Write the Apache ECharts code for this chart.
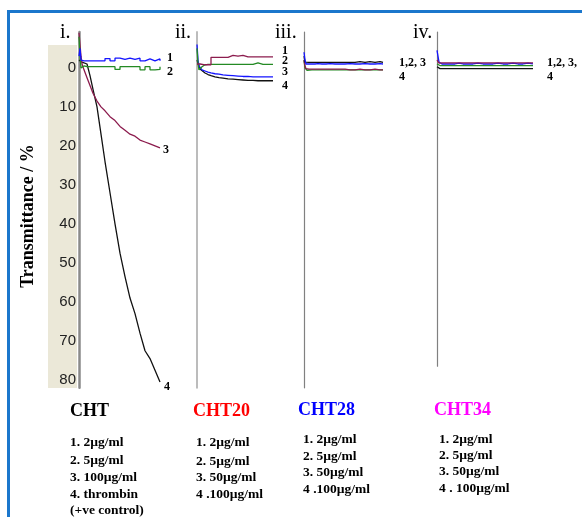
<!DOCTYPE html>
<html>
<head>
<meta charset="utf-8">
<script src="https://cdn.jsdelivr.net/npm/echarts@6/dist/echarts.min.js"></script>
<style>
  html, body { margin: 0; padding: 0; background: #fff; }
  #chart { width: 582px; height: 517px; }
</style>
</head>
<body>
<div id="chart"></div>
<script>
  // transmittance axis (runs downwards), labels only on panel i
  const yTicks = [0, 10, 20, 30, 40, 50, 60, 70, 80];
  const panelNames = ['i.', 'ii.', 'iii.', 'iv.'];

  // panel i : CHT
  const timeI = [0, 1, 2, 3, 5, 8, 11, 14, 18, 22, 26, 31, 36, 41, 46, 51, 56, 61, 66, 71, 76, 81];
  const chtBlue = [-3, -5, -2, -1.8, -1.8, -1.8, -1.8, -1.8, -1.8, -1.8, -2.4, -1.8, -2.5, -2.2, -2.5, -2.2, -2.5, -1.8, -2.3, -1.8, -2.3, -1.8];
  const chtGreen = [-8, -3, 0, -0.5, -0.3, -0.3, -0.3, -0.3, -0.3, -0.3, -0.3, -0.3, 0.4, -0.3, -0.3, -0.3, -0.3, 0.5, -0.3, 0.5, 0.4, -0.3];
  const chtMaroon = [-9, -6, -3, -1, 0.5, 2.5, 4.5, 6.5, 8.5, 10, 11, 12.5, 13.5, 15, 16, 17, 17.5, 18.5, 19, 19.5, 20, 20.5];
  const chtBlack = [-2, -2, -1.5, -1.5, -1.5, -1, 2, 5.5, 10, 17, 24, 32, 40, 47.5, 53.5, 59, 63, 68, 72.5, 74.5, 77.5, 80.5];

  // panel ii : CHT20
  const timeII = [0, 1, 2, 3, 5, 8, 11, 14, 18, 22, 26, 31, 36, 41, 46, 51, 56, 61, 66, 71, 76];
  const cht20Maroon = [-1, -0.5, -1, -1.2, -0.8, -0.8, -0.8, -2.7, -2.7, -2.7, -2.7, -3.2, -3.0, -3.2, -2.8, -2.8, -2.8, -2.8, -2.8, -2.8, -2.8];
  const cht20Green = [-5, -1, 0.5, 0, -0.3, -0.8, -0.9, -0.9, -0.9, -0.9, -0.9, -0.9, -0.9, -0.9, -0.9, -0.9, -0.9, -1.3, -0.9, -0.9, -0.9];
  const cht20Blue = [-6, -2, -0.5, 0, 0.5, 0.8, 1.1, 1.3, 1.5, 1.6, 1.8, 1.9, 2.0, 2.1, 2.2, 2.2, 2.3, 2.3, 2.3, 2.3, 2.3];
  const cht20Black = [-2, -1.5, -0.5, 0.3, 0.8, 1.3, 1.7, 2.0, 2.3, 2.5, 2.6, 2.8, 2.9, 3.0, 3.1, 3.2, 3.2, 3.3, 3.3, 3.3, 3.3];

  // panel iii : CHT28
  const timeIII = [0, 1, 2, 3, 5, 8, 11, 14, 18, 22, 26, 31, 36, 41, 46, 51, 56, 61, 66, 71, 76, 79];
  const cht28Green = [-2, 0, 0.5, 0.6, 0.5, 0.5, 0.5, 0.5, 0.5, 0.5, 0.5, 0.5, 0.5, 0.5, 0.5, 0.5, 0.5, 0.5, 0.5, 0.5, 0.5, 0.5];
  const cht28Maroon = [-2, -0.5, 0.2, 0.4, 0.3, 0.3, 0.3, 0.3, 0.3, 0.3, 0.3, 0.3, 0.3, 0.3, 0.5, 0.5, 0.3, 0.5, 0.5, 0.3, 0.5, 0.5];
  const cht28Blue = [-4, -2, -1, -0.8, -1, -1, -1, -1.1, -1, -1, -1.1, -1, -1, -1, -1.1, -1, -1, -1.1, -1, -1, -1.1, -1];
  const cht28Black = [-3, -1.5, -1.2, -1.3, -1.4, -1.4, -1.4, -1.4, -1.4, -1.4, -1.4, -1.4, -1.4, -1.4, -1.4, -1.4, -1.6, -1.4, -1.6, -1.4, -1.6, -1.4];

  // panel iv : CHT34
  const timeIV = [0, 1, 2, 3, 5, 8, 11, 14, 18, 22, 26, 31, 36, 41, 46, 51, 56, 61, 66, 71, 76, 81, 86, 91, 96];
  const cht34Black = [-0.3, -0.3, -0.3, 0.2, 0.2, 0.2, 0.2, 0.2, 0.2, 0.2, 0.2, 0.2, 0.2, 0.2, 0.2, 0.2, 0.2, 0.2, 0.2, 0.2, 0.2, 0.2, 0.2, 0.2, 0.2];
  const cht34Green = [-1, -0.7, -0.6, -0.6, -0.6, -0.6, -0.6, -0.6, -0.6, -0.6, -0.6, -0.6, -0.6, -0.6, -0.6, -0.6, -0.6, -0.6, -0.6, -0.6, -0.6, -0.6, -0.6, -0.6, -0.6];
  const cht34Maroon = [-2, -1.5, -1.2, -1.3, -1.3, -1.3, -1.3, -1.3, -1.3, -1.3, -1.3, -1.3, -1.3, -1.3, -1.3, -1.3, -1.3, -1.3, -1.3, -1.3, -1.3, -1.3, -1.3, -1.3, -1.3];
  const cht34Blue = [-4.5, -3, -1.5, -1.2, -1, -1, -1, -1, -1, -1.2, -1, -1, -1, -1.2, -1, -1, -1, -1.2, -1, -1, -1.2, -1, -1, -1.2, -1];

  // legend block under the panels
  const legendTitles = ['CHT', 'CHT20', 'CHT28', 'CHT34'];
  const legendColors = ['#000000', '#ff0000', '#0000ff', '#ff00ff'];
  const legendItems = [
    ['1. 2µg/ml', '2. 5µg/ml', '3. 100µg/ml', '4. thrombin', '(+ve control)'],
    ['1. 2µg/ml', '2. 5µg/ml', '3. 50µg/ml', '4 .100µg/ml'],
    ['1. 2µg/ml', '2. 5µg/ml', '3. 50µg/ml', '4 .100µg/ml'],
    ['1. 2µg/ml', '2. 5µg/ml', '3. 50µg/ml', '4 . 100µg/ml']
  ];

  const BLUE = '#1414ff', GREEN = '#248a24', MAROON = '#8c1c4e', BLACK = '#111111';
  const serif = '"Liberation Serif", "Times New Roman", serif';

  const chart = echarts.init(document.getElementById('chart'), null, { renderer: 'canvas' });

  function line(grid, times, values, color, step) {
    return {
      type: 'line',
      xAxisIndex: grid,
      yAxisIndex: grid,
      data: times.map((t, i) => [t, values[i]]),
      showSymbol: false,
      step: step || false,
      silent: true,
      lineStyle: { color: color, width: 1.3 },
      itemStyle: { color: color }
    };
  }

  function xAx(grid, max) {
    return { type: 'value', gridIndex: grid, min: 0, max: max, show: false };
  }

  function yAx(grid, max, color, width, withLabels) {
    return {
      type: 'value',
      gridIndex: grid,
      inverse: true,
      min: -9.2,
      max: max,
      axisLine: { show: true, onZero: false, lineStyle: { color: color, width: width } },
      axisTick: { show: false },
      splitLine: { show: false },
      axisLabel: withLabels ? {
        show: true,
        customValues: yTicks,
        margin: 3,
        color: '#222',
        fontSize: 15,
        fontFamily: '"Liberation Sans", Arial, sans-serif'
      } : { show: false }
    };
  }

  function txt(x, y, text, font, color, align) {
    return {
      type: 'text', x: x, y: y, z: 10,
      style: { text: text, font: font, fill: color || '#000', align: align || 'left', verticalAlign: 'middle' }
    };
  }

  // scale: 3.9 px per % with 0 at y=68
  const grids = [
    { left: 79, top: 32, width: 81, height: 355.8 },
    { left: 197, top: 32, width: 76, height: 355.8 },
    { left: 304, top: 32, width: 79, height: 355.8 },
    { left: 437, top: 32, width: 96, height: 334.2 }
  ].map(g => Object.assign({ outerBoundsMode: 'none', containLabel: false }, g));

  const graphics = [
    // frame
    { type: 'polyline', z: 5, shape: { points: [[8.5, 517], [8.5, 11.5], [582, 11.5]] }, style: { stroke: '#1b77cc', lineWidth: 3, fill: null } },
    // beige label band
    { type: 'rect', z: -10, shape: { x: 48, y: 45, width: 29, height: 343 }, style: { fill: '#ebe8d8' } },
    // axis title
    { type: 'text', x: 28, y: 216, rotation: Math.PI / 2, style: { text: 'Transmittance / %', font: 'bold 18px ' + serif, fill: '#000', align: 'center', verticalAlign: 'middle' } }
  ];

  const numX = [60, 175, 275, 413];
  panelNames.forEach((n, i) => graphics.push(txt(numX[i], 33, n, '20px ' + serif)));

  // curve numbers at the line ends
  const endFont = 'bold 12px ' + serif;
  graphics.push(
    txt(167, 58, '1', endFont), txt(167, 72, '2', endFont), txt(163, 150, '3', endFont), txt(164, 387, '4', endFont),
    txt(282, 51, '1', endFont), txt(282, 61, '2', endFont), txt(282, 72, '3', endFont), txt(282, 86, '4', endFont),
    txt(399, 63, '1,2, 3', endFont), txt(399, 77, '4', endFont),
    txt(547, 63, '1,2, 3,', endFont), txt(547, 77, '4', endFont)
  );

  const titleX = [70, 193, 298, 434];
  const titleY = [411, 411, 410, 410];
  const itemX = [70, 196, 303, 439];
  const itemY = [
    [443, 461, 478, 495, 511],
    [443, 462, 478, 495],
    [440, 457, 473, 490],
    [440, 456, 472, 489]
  ];
  legendTitles.forEach((t, i) => {
    graphics.push(txt(titleX[i], titleY[i], t, 'bold 18px ' + serif, legendColors[i]));
    legendItems[i].forEach((s, j) => graphics.push(txt(itemX[i], itemY[i][j], s, 'bold 13.5px ' + serif)));
  });

  chart.setOption({
    animation: false,
    backgroundColor: '#fff',
    grid: grids,
    xAxis: [xAx(0, 81), xAx(1, 76), xAx(2, 79), xAx(3, 96)],
    yAxis: [
      yAx(0, 82, '#8a8a8a', 2.5, true),
      yAx(1, 82, '#bcbcbc', 2, false),
      yAx(2, 82, '#808080', 1.2, false),
      yAx(3, 76.5, '#808080', 1.2, false)
    ],
    graphic: graphics,
    series: [
      line(0, timeI, chtBlack, BLACK),
      line(0, timeI, chtMaroon, MAROON),
      line(0, timeI, chtGreen, GREEN, 'end'),
      line(0, timeI, chtBlue, BLUE, 'end'),

      line(1, timeII, cht20Black, BLACK),
      line(1, timeII, cht20Blue, BLUE),
      line(1, timeII, cht20Green, GREEN),
      line(1, timeII, cht20Maroon, MAROON, 'end'),

      line(2, timeIII, cht28Green, GREEN),
      line(2, timeIII, cht28Maroon, MAROON),
      line(2, timeIII, cht28Black, BLACK),
      line(2, timeIII, cht28Blue, BLUE),

      line(3, timeIV, cht34Black, BLACK),
      line(3, timeIV, cht34Green, GREEN),
      line(3, timeIV, cht34Blue, BLUE),
      line(3, timeIV, cht34Maroon, MAROON)
    ]
  });
</script>
</body>
</html>
